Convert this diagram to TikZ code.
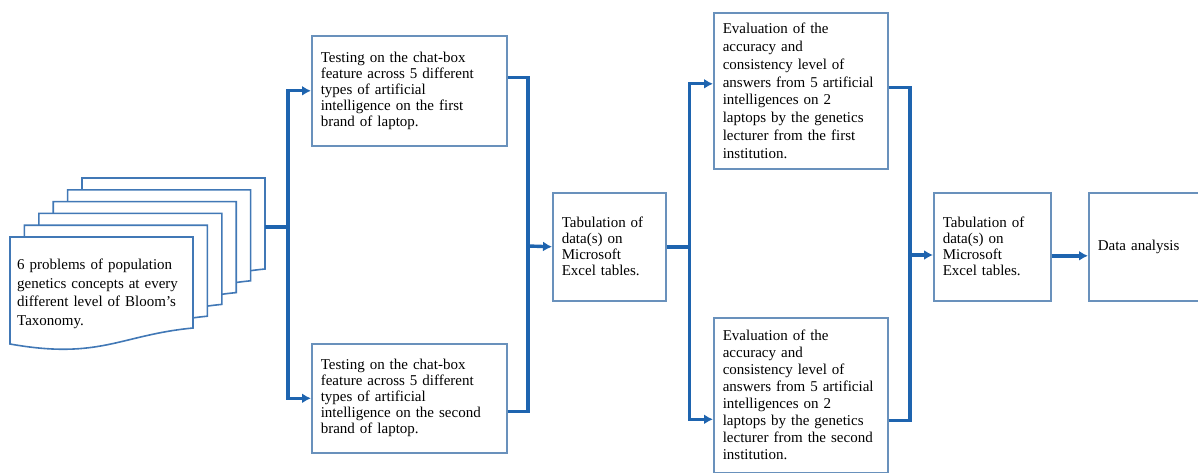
\documentclass[tikz,border=0pt]{standalone}
\usepackage{fontspec}
\setmainfont{Liberation Serif}
\usetikzlibrary{arrows.meta}

\definecolor{flowblue}{RGB}{30,100,175}
\definecolor{edgeblue}{RGB}{105,145,188}
\definecolor{pageblue}{RGB}{65,120,182}

\tikzset{
	stepbox/.style={draw=edgeblue, line width=1.6pt, fill=white, anchor=north west,
		align=left, inner xsep=9pt, font=\fontsize{15}{16}\selectfont},
	flow/.style={draw=flowblue, line width=3.4pt},
	flowarrow/.style={flow, -{Latex[length=9pt,width=10pt]}}
}

\begin{document}
\begin{tikzpicture}
			[
				x=1pt,
				y=-1pt
			]
			\useasboundingbox (0,0) rectangle (1198,473);
			% Stack of problem sheets
			\foreach \i in {5,4,3,2,1,0} {
					\filldraw[fill=white, draw=pageblue, line width=1.6pt, shift={(14.4*\i,-11.8*\i)}]
					(10,237) -- (193,237) -- (193,328)
					.. controls (120,335) and (100,360) .. (10,344) -- cycle;
				}
			\node[anchor=west, align=left, text width=170pt, inner xsep=7pt,
				font=\fontsize{15}{18.5}\selectfont] (problems) at (10,294)
				{6 problems of population\\genetics concepts at every\\different level of Bloom's\\Taxonomy.};
			\coordinate (stack) at (265,227);
			% Steps
			\node[stepbox, text width=177pt, minimum height=110pt] (testA) at (311,35)
				{Testing on the chat-box\\feature across 5 different\\types of artificial\\intelligence on the first\\brand of laptop.};
			\node[stepbox, text width=177pt, minimum height=109pt] (testB) at (311,343)
				{Testing on the chat-box\\feature across 5 different\\types of artificial\\intelligence on the second\\brand of laptop.};
			\node[stepbox, text width=95pt, minimum height=108pt] (tabA) at (552,192)
				{Tabulation of\\data(s) on\\Microsoft\\Excel tables.};
			\node[stepbox, text width=156pt, minimum height=156pt, font=\fontsize{15}{17.8}\selectfont] (evalA) at (713,12)
				{Evaluation of the\\accuracy and\\consistency level of\\answers from 5 artificial\\intelligences on 2\\laptops by the genetics\\lecturer from the first\\institution.};
			\node[stepbox, text width=156pt, minimum height=155pt, font=\fontsize{15}{17}\selectfont] (evalB) at (713,317)
				{Evaluation of the\\accuracy and\\consistency level of\\answers from 5 artificial\\intelligences on 2\\laptops by the genetics\\lecturer from the second\\institution.};
			\node[stepbox, text width=99pt, minimum height=108pt] (tabB) at (933,192)
				{Tabulation of\\data(s) on\\Microsoft\\Excel tables.};
			\node[stepbox, text width=94pt, minimum height=108pt] (data) at (1088,192)
				{Data analysis};
			% Connectors
			\draw[flow] (stack) -- (288,227) coordinate (split1);
			\draw[flowarrow] (split1) |- (testA.west);
			\draw[flowarrow] (split1) |- (testB.west);
			\coordinate (merge1) at (528,246);
			\draw[flow] ([yshift=13pt]testA.east) -| (merge1);
			\draw[flow] ([yshift=-13pt]testB.east) -| (merge1);
			\draw[flowarrow] (merge1) -- (tabA.west);
			\draw[flow] (tabA.east) -- ++(23,0) coordinate (split2);
			\draw[flowarrow] (split2) |- ([yshift=7pt]evalA.west);
			\draw[flowarrow] (split2) |- ([yshift=-24pt]evalB.west);
			\coordinate (merge2) at (910,255);
			\draw[flow] ([yshift=3pt]evalA.east) -| (merge2);
			\draw[flow] ([yshift=-25pt]evalB.east) -| (merge2);
			\draw[flowarrow] (merge2) -- (merge2 -| tabB.west);
			\draw[flowarrow] ([yshift=-9pt]tabB.east) -- ([yshift=-9pt]data.west);
		\end{tikzpicture}
\end{document}
